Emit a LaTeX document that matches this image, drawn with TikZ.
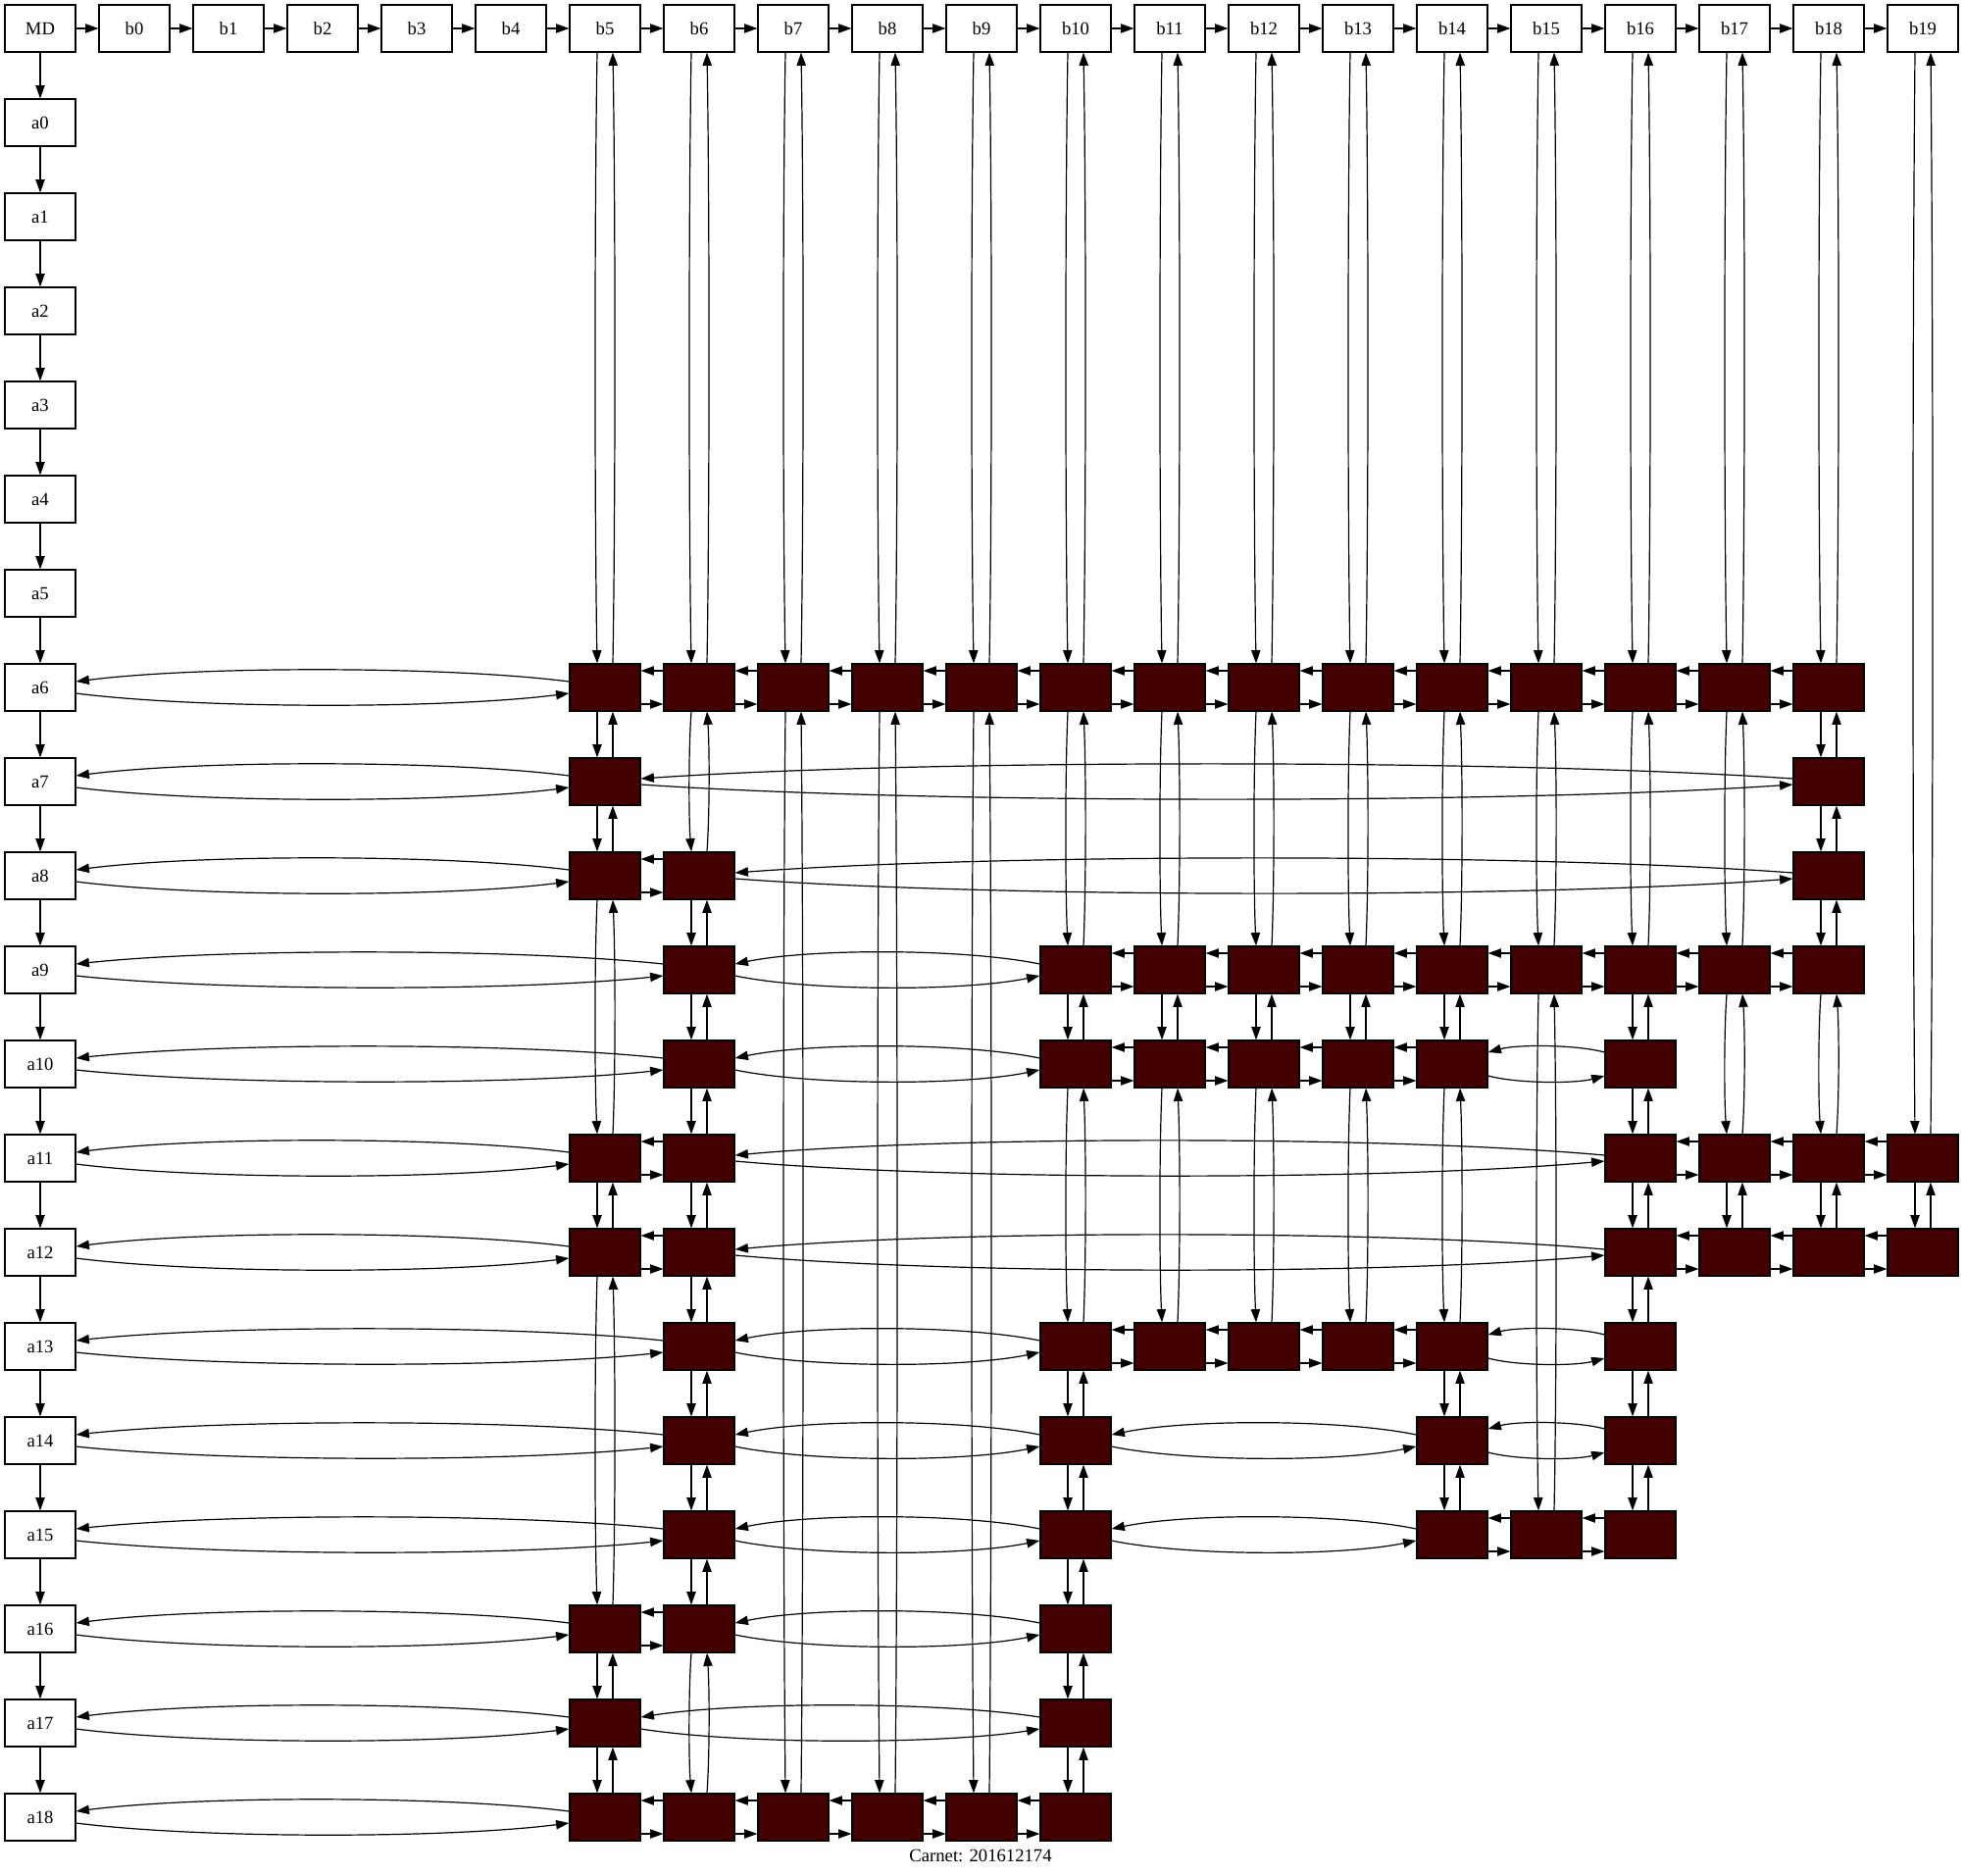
\documentclass[tikz,border=0pt]{standalone}
\usepackage{fontspec}
\setmainfont{Liberation Serif}
\usepackage{tikz}
\usetikzlibrary{arrows.meta, calc}
\definecolor{cellred}{RGB}{66,0,0}

% bowed connectors: from, to, end offset, control offset
\newcommand{\hbow}[4]{\draw[link] ($(#1)+(0,#3)$) .. controls ($(#1)!0.25!(#2)+(0,#4)$) and ($(#1)!0.75!(#2)+(0,#4)$) .. ($(#2)+(0,#3)$);}
\newcommand{\vbow}[4]{\draw[link] ($(#1)+(#3,0)$) .. controls ($(#1)!0.25!(#2)+(#4,0)$) and ($(#1)!0.75!(#2)+(#4,0)$) .. ($(#2)+(#3,0)$);}

\begin{document}
\begin{tikzpicture}[x=0.75pt, y=0.75pt, >={Triangle[length=10pt,width=7pt]}]
  \tikzstyle{hd} = [rectangle, draw, line width=0.9pt, minimum width=54pt, minimum height=36pt, inner sep=0pt, font=\fontsize{14}{16}\selectfont]
  \tikzstyle{cell} = [rectangle, draw, line width=0.9pt, fill=cellred, minimum width=54pt, minimum height=36pt, inner sep=0pt]
  \tikzstyle{link} = [->, line width=0.9pt]

  \path[use as bounding box, fill=white] (0,0) rectangle (2003,-1913);

  % headers
  \node [hd] (md) at (41,-29) {MD};
  \foreach \bj in {0,...,19} { \node [hd] (b\bj) at ({137+96*\bj},-29) {b\bj}; }
  \foreach \ai in {0,...,18} { \node [hd] (a\ai) at (41,{-125-96*\ai}) {a\ai}; }

  \draw[link] (md) -- (b0);
  \foreach \bj [remember=\bj as \pb (initially 0)] in {1,...,19} { \draw[link] (b\pb) -- (b\bj); }
  \draw[link] (md) -- (a0);
  \foreach \ai [remember=\ai as \pa (initially 0)] in {1,...,18} { \draw[link] (a\pa) -- (a\ai); }

  % cells, row by row, with their row links
  \foreach \ai/\cols in {6/{5,6,7,8,9,10,11,12,13,14,15,16,17,18}, 7/{5,18}, 8/{5,6,18},
      9/{6,10,11,12,13,14,15,16,17,18}, 10/{6,10,11,12,13,14,16}, 11/{5,6,16,17,18,19},
      12/{5,6,16,17,18,19}, 13/{6,10,11,12,13,14,16}, 14/{6,10,14,16}, 15/{6,10,14,15,16},
      16/{5,6,10}, 17/{5,10}, 18/{5,6,7,8,9,10}} {
    \foreach \bj [remember=\bj as \pb (initially -1)] in \cols {
      \node [cell] (r\ai b\bj) at ({137+96*\bj},{-125-96*\ai}) {};
      \ifnum\pb<0
        \hbow{r\ai b\bj.west}{a\ai.east}{6}{22}
        \hbow{a\ai.east}{r\ai b\bj.west}{-6}{-22}
      \else
        \pgfmathtruncatemacro\gap{\bj-\pb-1}
        \ifnum\gap=0
          \draw[link] ($(r\ai b\bj.west)+(0,17)$) -- ($(r\ai b\pb.east)+(0,17)$);
          \draw[link] ($(r\ai b\pb.east)+(0,-17)$) -- ($(r\ai b\bj.west)+(0,-17)$);
        \else
          \ifnum\gap=1 \def\ed{12}\else\ifnum\gap>8 \def\ed{3}\else\def\ed{6}\fi\fi
          \pgfmathsetmacro\ctl{24-\ed/3}
          \hbow{r\ai b\bj.west}{r\ai b\pb.east}{\ed}{\ctl}
          \hbow{r\ai b\pb.east}{r\ai b\bj.west}{-\ed}{-\ctl}
        \fi
      \fi
    }
  }

  % column links
  \foreach \bj/\rows in {5/{6,7,8,11,12,16,17,18}, 6/{6,8,9,10,11,12,13,14,15,16,18},
      7/{6,18}, 8/{6,18}, 9/{6,18}, 10/{6,9,10,13,14,15,16,17,18},
      11/{6,9,10,13}, 12/{6,9,10,13}, 13/{6,9,10,13}, 14/{6,9,10,13,14,15},
      15/{6,9,15}, 16/{6,9,10,11,12,13,14,15}, 17/{6,9,11,12},
      18/{6,7,8,9,11,12}, 19/{11,12}} {
    \foreach \ai [remember=\ai as \pa (initially -1)] in \rows {
      \ifnum\pa<0
        \vbow{b\bj.south}{r\ai b\bj.north}{-8}{-10.7}
        \vbow{r\ai b\bj.north}{b\bj.south}{8}{10.7}
      \else
        \pgfmathtruncatemacro\gap{\ai-\pa-1}
        \ifnum\gap=0
          \draw[link] ($(r\pa b\bj.south)+(-8,0)$) -- ($(r\ai b\bj.north)+(-8,0)$);
          \draw[link] ($(r\ai b\bj.north)+(8,0)$) -- ($(r\pa b\bj.south)+(8,0)$);
        \else
          \vbow{r\pa b\bj.south}{r\ai b\bj.north}{-8}{-10.7}
          \vbow{r\ai b\bj.north}{r\pa b\bj.south}{8}{10.7}
        \fi
      \fi
    }
  }

  \node [font=\fontsize{14}{16}\selectfont] (carnet) at (1000,-1892) {Carnet: 201612174};
\end{tikzpicture}
\end{document}
